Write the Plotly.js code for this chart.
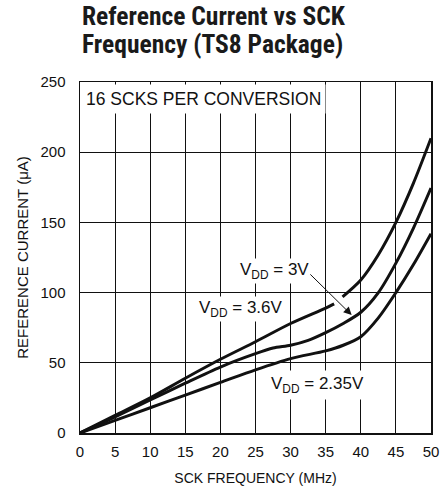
<!DOCTYPE html>
<html>
<head>
<meta charset="utf-8">
<script src="https://cdn.plot.ly/plotly-3.0.1.min.js"></script>
<style>html,body{margin:0;padding:0;background:#fff;}#chart{width:441px;height:493px;}</style>
</head>
<body>
<div id="chart"></div>
<script>
// SCK frequency (MHz) and reference current (uA)
const freqTop = [0, 5, 10, 15, 20, 25, 30, 35, 36.2, 36.6, 37.4, 40, 42.5, 45, 47.5, 50];
const vdd36 = [0, 12.5, 25, 39, 52.5, 65, 78, 89, 92, null, 97, 109, 127, 150, 178, 210];

const freq = [0, 5, 10, 15, 20, 25, 27.5, 30, 32.5, 35, 37.5, 40, 42.5, 45, 47.5, 50];
const vdd3 = [0, 11.5, 23.5, 35.5, 47, 56.5, 60.5, 62.5, 66, 71.5, 78, 86, 100, 121, 146, 174.5];

const freqLow = [0, 5, 10, 15, 20, 25, 30, 35, 37.5, 40, 42.5, 45, 47.5, 50];
const vdd235 = [0, 9, 18, 27, 36, 45, 53, 58.5, 62.5, 68.6, 82, 100, 120, 142];

const xTicks = [0, 5, 10, 15, 20, 25, 30, 35, 40, 45, 50];
const yTicks = [0, 50, 100, 150, 200, 250];

const titleLines = ['Reference Current vs SCK', 'Frequency (TS8 Package)'];

const BODY = '"Liberation Sans", Arial, sans-serif';
const TITLE = '"Roboto Condensed", "Liberation Sans Narrow", "Arial Narrow", sans-serif';

const lineStyle = {color: '#111', width: 3, shape: 'spline', smoothing: 0.8};

const traces = [
  {x: freqTop, y: vdd36, mode: 'lines', line: lineStyle, connectgaps: false, name: 'VDD = 3.6V'},
  {x: freq, y: vdd3, mode: 'lines', line: lineStyle, name: 'VDD = 3V'},
  {x: freqLow, y: vdd235, mode: 'lines', line: lineStyle, name: 'VDD = 2.35V'}
];

const pxToPaperY = px => (433 - px) / 351;

const layout = {
  width: 441, height: 493,
  margin: {l: 80, r: 10, t: 82, b: 60},
  paper_bgcolor: '#fff', plot_bgcolor: '#fff',
  showlegend: false,
  font: {family: BODY, color: '#111', size: 15},
  xaxis: {
    range: [0, 50], tickvals: xTicks, ticktext: xTicks.map(String),
    showgrid: true, gridcolor: '#111', gridwidth: 1,
    zeroline: false, showline: true, linecolor: '#111', linewidth: 1.5, mirror: true,
    ticks: '', ticklabelstandoff: 4,
    tickfont: {family: BODY, size: 15},
    title: {text: 'SCK FREQUENCY (MHz)', font: {family: BODY, size: 14}, standoff: 14}
  },
  yaxis: {
    range: [0, 250], tickvals: yTicks, ticktext: yTicks.map(String),
    showgrid: true, gridcolor: '#111', gridwidth: 1,
    zeroline: false, showline: true, linecolor: '#111', linewidth: 1.5, mirror: true,
    ticks: '', ticklabelstandoff: 10,
    tickfont: {family: BODY, size: 15},
    title: {text: 'REFERENCE CURRENT (μA)', font: {family: BODY, size: 15}, standoff: 8}
  },
  annotations: [
    {xref: 'paper', yref: 'paper', x: 0, y: pxToPaperY(-1.5), xanchor: 'left', yanchor: 'top',
     align: 'left', showarrow: false, text: '<b>' + titleLines[0] + '</b>',
     font: {family: TITLE, size: 25.5, color: '#1a1a1a'}},
    {xref: 'paper', yref: 'paper', x: 0, y: pxToPaperY(27), xanchor: 'left', yanchor: 'top',
     align: 'left', showarrow: false, text: '<b>' + titleLines[1] + '</b>',
     font: {family: TITLE, size: 25.5, color: '#1a1a1a'}},
    {xref: 'x', yref: 'y', x: 0.2, y: 250, xanchor: 'left', yanchor: 'top', yshift: -1.5,
     text: '16 SCKS PER CONVERSION', showarrow: false, bgcolor: '#fff', borderpad: 4,
     font: {family: BODY, size: 17.5}},
    {xref: 'x', yref: 'y', x: 22.5, y: 115.5, xanchor: 'left', yanchor: 'middle',
     text: 'V<sub>DD</sub> = 3V', showarrow: false, bgcolor: '#fff', borderpad: 1,
     font: {family: BODY, size: 17}},
    {xref: 'x', yref: 'y', x: 16.7, y: 88, xanchor: 'left', yanchor: 'middle',
     text: 'V<sub>DD</sub> = 3.6V', showarrow: false, bgcolor: '#fff', borderpad: 1,
     font: {family: BODY, size: 17}},
    {xref: 'x', yref: 'y', x: 26.7, y: 34.5, xanchor: 'left', yanchor: 'middle',
     text: 'V<sub>DD</sub> = 2.35V', showarrow: false, bgcolor: '#fff', borderpad: 3,
     font: {family: BODY, size: 17}},
    {xref: 'x', yref: 'y', x: 38.7, y: 84, axref: 'x', ayref: 'y', ax: 32.6, ay: 114,
     text: '', showarrow: true, arrowhead: 2, arrowsize: 1.6, arrowwidth: 1, arrowcolor: '#111'}
  ]
};

Plotly.newPlot('chart', traces, layout, {displayModeBar: false, staticPlot: true});
</script>
</body>
</html>
